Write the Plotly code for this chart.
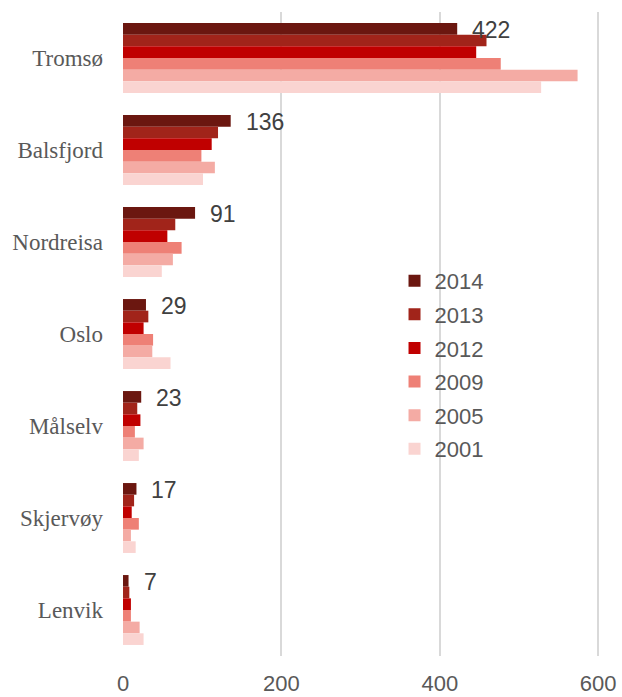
import plotly.graph_objects as go

categories = ["Tromsø", "Balsfjord", "Nordreisa", "Oslo", "Målselv", "Skjervøy", "Lenvik"]
years = ["2014", "2013", "2012", "2009", "2005", "2001"]
v2014 = [422, 136, 91, 29, 23, 17, 7]
v2013 = [459, 120, 66, 32, 18, 14, 8]
v2012 = [446, 112, 56, 26, 22, 11, 10]
v2009 = [477, 99, 74, 38, 15, 20, 10]
v2005 = [574, 116, 63, 37, 26, 10, 21]
v2001 = [528, 101, 49, 60, 20, 16, 26]
series = [v2014, v2013, v2012, v2009, v2005, v2001]
colors = ["#6b1710", "#a1241a", "#c00000", "#ee8076", "#f4aba4", "#fad4d1"]
labels = [str(v) for v in v2014]

fig = go.Figure()
for i, (yr, vals, col) in enumerate(zip(years, series, colors)):
    fig.add_trace(go.Bar(
        y=categories, x=vals, name=yr, orientation="h",
        marker=dict(color=col, line=dict(width=0)),
        legendgroup=yr,
    ))

# value labels for 2014 (top bar of each group)
for cat, v, lab in zip(categories, v2014, labels):
    fig.add_annotation(
        x=v, y=cat, xref="x", yref="y", text=lab, showarrow=False,
        xanchor="left", yanchor="middle", xshift=13, yshift=28,
        font=dict(family="Liberation Sans, Arial", size=23, color="#404040"),
    )

fig.update_layout(
    width=622, height=697,
    margin=dict(l=123, r=8, t=12, b=40.5),
    paper_bgcolor="white", plot_bgcolor="white",
    barmode="group", bargap=0.24, bargroupgap=0,
    showlegend=True,
    legend=dict(
        x=0.553, y=0.615, xanchor="left", yanchor="top",
        font=dict(family="Liberation Sans, Arial", size=22, color="#595959"),
        tracegroupgap=2, bgcolor="rgba(0,0,0,0)",
    ),
    xaxis=dict(
        range=[0, 620], tickvals=[0, 200, 400, 600],
        showgrid=True, gridcolor="#d9d9d9", gridwidth=2,
        zeroline=False, showline=False, ticks="",
        tickfont=dict(family="Liberation Sans, Arial", size=22, color="#595959"),
        ticklabelstandoff=12, automargin=False,
    ),
    yaxis=dict(
        autorange="reversed", showgrid=False, zeroline=False, showline=False,
        ticks="", ticklabelstandoff=19, automargin=False,
        tickfont=dict(family="Liberation Serif, Times New Roman", size=23, color="#595959"),
    ),
)
fig.update_xaxes(layer="below traces")

fig.write_html(
    "out.html",
    config={"displayModeBar": False},
    post_script="document.body.style.margin='0';document.body.style.overflow='hidden';",
)
